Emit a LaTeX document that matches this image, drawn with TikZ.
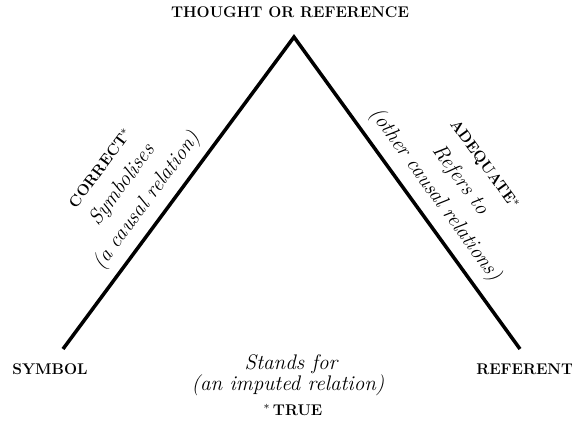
\documentclass[tikz,border=0pt]{standalone}
\usepackage{tikz}
\usetikzlibrary{positioning}

\begin{document}
\begin{tikzpicture}[x=0.025cm, y=-0.025cm,
  every node/.style={inner sep=0pt},
  caps/.style={font=\fontsize{11}{13}\selectfont\bfseries},
  ital/.style={font=\fontsize{15}{17}\selectfont\itshape}]
\useasboundingbox (0,0) rectangle (572,430);
% corners of the triangle
\coordinate (apex) at (294,37);
\coordinate (symend) at (63,349);
\coordinate (refend) at (520,349);
\draw[line width=2.5pt, line join=miter] (symend) -- (apex) -- (refend);
% corner labels
\node[caps] (thought) at (290,12) {THOUGHT OR REFERENCE};
\node[caps] (symbol) at (50,369) {SYMBOL};
\node[caps, anchor=west] (referent) at (476,369) {REFERENT};
% left side
\node[caps, rotate=53.5] (correct) at (100,168) {CORRECT$^{*}$};
\node[ital, rotate=53.5] (symbolises) at (123,185) {Symbolises};
\node[ital, rotate=53.5] (causal) at (147,201) {(a causal relation)};
% right side
\node[caps, rotate=-54] (adequate) at (484,165) {ADEQUATE$^{*}$};
\node[ital, rotate=-54] (refers) at (460,180) {Refers to};
\node[ital, rotate=-54] (others) at (435,195) {(other causal relations)};
% base
\node[ital] (stands) at (291,364) {Stands for};
\node[ital] (imputed) at (288,385) {(an imputed relation)};
\node[caps] (true) at (293,410) {$^{*}$\,TRUE};
\end{tikzpicture}
\end{document}
